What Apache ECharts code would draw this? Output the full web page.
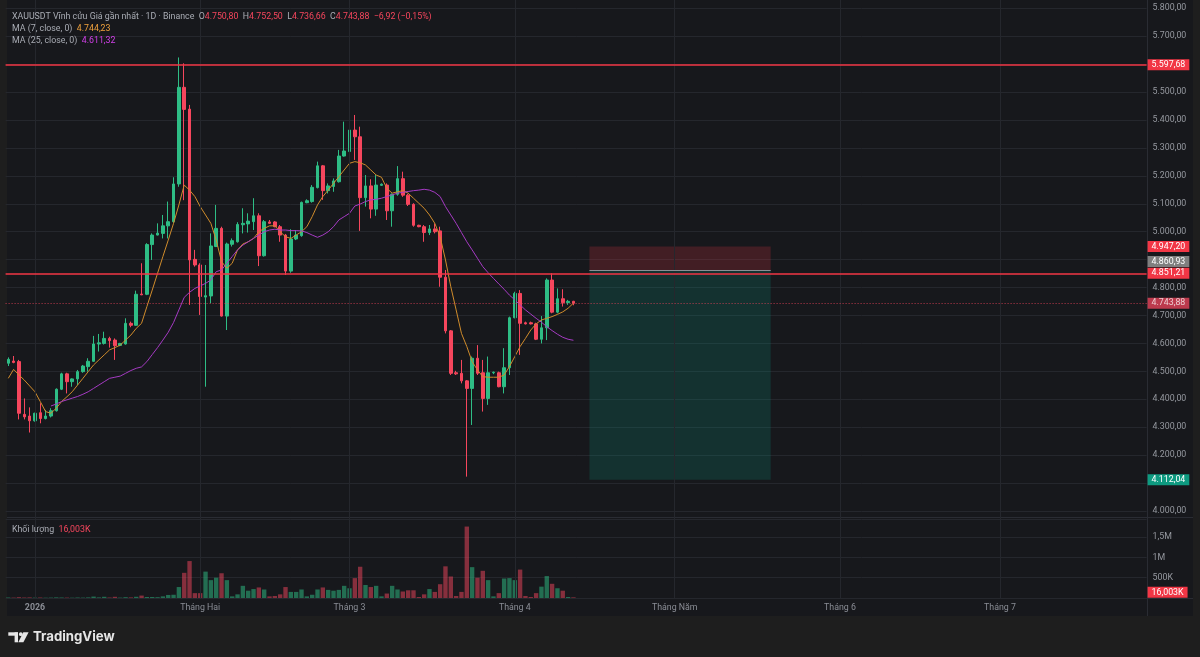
<!DOCTYPE html>
<html><head><meta charset="utf-8">
<script src="https://cdn.jsdelivr.net/npm/echarts@6/dist/echarts.min.js"></script>
<style>
html,body{margin:0;padding:0;background:#1e1e1e;overflow:hidden;}
#pane{position:absolute;left:7px;top:0;width:1186px;height:616px;background:#17181c;}
.sep{position:absolute;background:#2a2c33;}
#c{position:absolute;left:0;top:0;width:1200px;height:657px;}
</style>
</head><body>
<div id="pane"></div>
<div class="sep" style="left:7px;top:517px;width:1186px;height:1px;"></div>
<div class="sep" style="left:7px;top:598px;width:1186px;height:1px;"></div>
<div class="sep" style="left:1147px;top:0;width:1px;height:616px;"></div>
<div id="c"></div>
<script>
const FONT = 'Roboto, Inter, "Noto Sans", sans-serif';
const LOGOFONT = 'Inter, "Noto Sans", sans-serif';
const FS = 8.8;

// ---- axis / labels ----
const startDay = '2025-12-27';
const dayCount = 214;
const tickDates  = ['2026-01-01','2026-02-01','2026-03-01','2026-04-01','2026-05-01','2026-06-01','2026-07-01'];
const tickLabels = ['2026','Tháng Hai','Tháng 3','Tháng 4','Tháng Năm','Tháng 6','Tháng 7'];
const hiddenPriceTicks = [5600, 4900, 4100];

// ---- daily candles (XAUUSDT perpetual, 1D) ----
const opens = [4529,4537,4535,4346,4340,4323,4352,4331,4340,4359,
 4436,4491,4463,4473,4499,4517,4536,4598,4600,4618,
 4612,4593,4598,4672,4665,4777,4776,4954,4988,4994,
 5021,5036,5171,5517,5439,4901,4881,4766,4770,4947,
 5012,4698,4955,4964,5025,5028,5036,5057,4914,5035,
 5035,5018,4988,4859,4974,4986,5104,5108,5158,5236,
 5147,5162,5179,5271,5287,5364,5340,5122,5164,5081,
 5166,5167,5075,5134,5190,5131,5098,5023,5018,4997,
 5010,5003,4837,4645,4495,4493,4466,4439,4547,4495,
 4403,4495,4495,4445,4513,4692,4779,4674,4674,4670,
 4615,4656,4827,4712,4760,4746,4750.80];
const highs = [4550,4555,4541,4403,4371,4352,4386,4362,4368,4439,
 4495,4495,4475,4505,4523,4547,4627,4634,4642,4624,
 4618,4602,4690,4678,4789,4887,4959,4994,5030,5060,
 5108,5195,5624,5603,5454,4935,4887,4881,4994,5096,
 5018,4961,4976,5034,5084,5066,5120,5066,5042,5042,
 5038,5024,4992,5009,5006,5108,5116,5167,5251,5239,
 5173,5191,5293,5394,5367,5418,5376,5203,5188,5203,
 5173,5173,5137,5235,5215,5135,5102,5025,5024,5024,
 5030,5018,4863,4648,4502,4541,4469,4553,4594,4541,
 4553,4499,4499,4583,4696,4785,4791,4678,4678,4674,
 4698,4833,4851,4797,4794,4756,4752.50];
const lows = [4519,4529,4328,4328,4281,4320,4314,4328,4335,4356,
 4433,4421,4445,4451,4495,4499,4534,4571,4596,4585,
 4541,4590,4596,4658,4663,4773,4773,4899,4987,4976,
 4976,5032,5161,5113,4738,4875,4702,4445,4744,4945,
 4696,4648,4947,4961,4994,4997,5006,4877,4911,5028,
 5016,4964,4845,4853,4970,4982,5102,5104,5155,5114,
 5137,5143,5176,5269,5269,5257,5003,5090,5048,5057,
 5164,5042,5018,5129,5125,5092,5018,5016,4964,4988,
 4994,4803,4636,4487,4487,4457,4123,4308,4487,4356,
 4380,4490,4443,4421,4487,4690,4559,4668,4668,4612,
 4600,4612,4708,4708,4732,4738,4736.66];
const closes = [4543,4532,4350,4337,4323,4350,4331,4340,4359,4436,
 4491,4463,4473,4499,4519,4536,4598,4602,4618,4610,
 4592,4600,4672,4665,4776,4774,4954,4988,4995,5021,
 5036,5171,5517,5438,4899,4881,4768,4771,4949,5012,
 4698,4956,4968,5026,5030,5038,5057,4914,5036,5030,
 5018,4988,4859,4974,4988,5105,5111,5159,5236,5147,
 5164,5182,5271,5289,5364,5340,5122,5164,5081,5167,
 5170,5075,5134,5190,5131,5098,5023,5018,4997,5010,
 5000,4837,4645,4493,4491,4466,4439,4547,4493,4403,
 4495,4497,4445,4513,4692,4779,4672,4670,4670,4615,
 4656,4827,4712,4760,4746,4750.80,4743.88];
const volumes = [12000,10000,20000,12000,15000,10000,12000,8000,10000,15000,
 12000,10000,8000,12000,10000,15000,35000,15000,30000,12000,
 30000,10000,20000,15000,30000,60000,25000,25000,20000,40000,
 75000,80000,270000,620000,910000,120000,120000,650000,440000,500000,
 610000,440000,40000,90000,300000,180000,220000,260000,210000,40000,
 50000,90000,270000,150000,150000,210000,40000,80000,210000,260000,
 200000,180000,200000,300000,240000,490000,770000,320000,270000,300000,
 40000,110000,300000,210000,160000,190000,190000,25000,90000,220000,
 150000,340000,780000,530000,50000,150000,1760000,760000,500000,670000,
 440000,40000,120000,480000,490000,440000,700000,50000,25000,120000,
 280000,540000,350000,240000,180000,25000,16003];
const ma7 = [4475,4507,4487,4469,4448,4427,4392,4356,4350,4368,
 4392,4409,4427,4451,4475,4499,4523,4541,4559,4577,
 4585,4594,4612,4630,4654,4672,4732,4791,4851,4911,
 4970,5030,5096,5167,5149,5126,5090,5060,5030,4970,
 4893,4869,4887,4935,4956,4964,4976,5000,5012,5021,
 5021,5000,4982,4976,4988,5000,5018,5054,5096,5126,
 5149,5173,5197,5221,5245,5251,5247,5239,5221,5203,
 5195,5155,5138,5143,5147,5138,5120,5102,5084,5060,
 5030,4982,4899,4803,4720,4636,4589,4535,4505,4481,
 4479,4479,4479,4487,4517,4553,4589,4618,4648,4670,
 4684,4690,4696,4704,4713,4726,4744.23];
const ma25 = ['-','-','-','-','-','-','-','-',4376,4383,
 4392,4398,4404,4410,4418,4427,4439,4451,4463,4475,
 4479,4483,4493,4503,4511,4516,4535,4560,4585,4612,
 4640,4675,4720,4765,4783,4797,4806,4815,4827,4857,
 4863,4887,4911,4935,4952,4964,4976,4988,5000,5006,
 5009,5006,5006,5004,5004,5003,4997,4988,4980,4988,
 5000,5018,5042,5054,5066,5092,5099,5108,5114,5116,
 5120,5126,5132,5138,5141,5144,5147,5149,5152,5149,
 5141,5126,5090,5060,5030,4997,4964,4935,4905,4875,
 4853,4833,4813,4794,4773,4756,4738,4720,4705,4690,
 4676,4660,4646,4633,4622,4615,4611.32];

// ---- drawings ----
const levelLines = [5597.68, 4851.21];
const position = {start:'2026-04-15', end:'2026-05-19', stop:4947.20, entry:4860.93, target:4112.04};

// ---- helpers ----
function vn(v, d){
  const s = Math.abs(v).toFixed(d);
  let parts = s.split('.');
  let i = parts[0].replace(/\B(?=(\d{3})+(?!\d))/g, '.');
  return (v < 0 ? '−' : '') + i + (parts[1] ? ',' + parts[1] : '');
}
const categories = [];
const t0 = Date.parse(startDay + 'T00:00:00Z');
for (let i = 0; i < dayCount; i++) categories.push(new Date(t0 + i * 864e5).toISOString().slice(0, 10));

const UP = '#2ebd85', DN = '#f6465d';
const VUP = 'rgba(46,189,133,0.52)', VDN = 'rgba(246,70,93,0.5)';
const GRIDC = '#25272d';
const GRAY = '#a9acb4';
const AXC = '#95989f';
const L = 5.6, R = 53.4;

const candleData = opens.map((o, i) => [o, closes[i], lows[i], highs[i]]);
const volData = volumes.map((v, i) => ({value: v, itemStyle: {color: closes[i] >= opens[i] ? VUP : VDN}}));
const last = closes.length - 1;
const lastClose = closes[last];
const chg = lastClose - closes[last - 1];

function tag(bg, v, text, off){
  return {show: true, position: 'end', distance: 1, formatter: text || vn(v, 2), color: '#fff',
    backgroundColor: bg, padding: [1, 4, 0, 4], fontSize: FS, lineHeight: 10, fontFamily: FONT,
    offset: off || [0, 0]};
}
const clear = {color: 'rgba(0,0,0,0)', width: 0};
function rich(extra){
  const r = {g: {fill: GRAY, fontSize: FS, fontFamily: FONT}};
  for (const k in extra) r[k] = {fill: extra[k], fontSize: FS, fontFamily: FONT};
  return r;
}

const chart = echarts.init(document.getElementById('c'), null, {renderer: 'canvas'});
const option = {
  backgroundColor: 'transparent',
  animation: false,
  grid: [
    {left: L, right: R, top: 8.3, bottom: 657 - 511, containLabel: false, outerBoundsMode: 'none'},
    {left: L, right: R, top: 519, bottom: 59, containLabel: false, outerBoundsMode: 'none'},
    {left: L, right: R, top: 0, bottom: 59, containLabel: false, outerBoundsMode: 'none'}
  ],
  xAxis: [
    {type: 'category', gridIndex: 0, data: categories, show: false},
    {type: 'category', gridIndex: 1, data: categories, show: false},
    {type: 'category', gridIndex: 2, data: categories,
      axisLine: {show: false}, axisTick: {show: false}, splitLine: {show: false},
      axisLabel: {
        interval: (idx, val) => tickDates.indexOf(val) >= 0,
        formatter: (val) => {
          const k = tickDates.indexOf(val);
          if (k < 0) return '';
          return k === 0 ? '{b|' + tickLabels[k] + '}' : tickLabels[k];
        },
        color: '#8a8d95', fontSize: FS, fontFamily: FONT, margin: 5,
        rich: {b: {fontWeight: 'bold', color: '#8a8d95', fontSize: FS, fontFamily: FONT}}
      }}
  ],
  yAxis: [
    {type: 'value', gridIndex: 0, position: 'right', min: 4000, max: 5800, interval: 100,
      axisLine: {show: false}, axisTick: {show: false},
      splitLine: {show: true, lineStyle: {color: GRIDC, width: 1}},
      axisLabel: {color: AXC, fontSize: FS, fontFamily: FONT, margin: 6, showMinLabel: true, showMaxLabel: true,
        formatter: (v) => hiddenPriceTicks.indexOf(v) >= 0 ? '' : vn(v, 2)}},
    {type: 'value', gridIndex: 1, position: 'right', min: 0, max: 1946000, interval: 500000,
      axisLine: {show: false}, axisTick: {show: false},
      splitLine: {show: true, lineStyle: {color: GRIDC, width: 1}},
      axisLabel: {color: AXC, fontSize: FS, fontFamily: FONT, margin: 6,
        formatter: (v) => {
          if (v <= 0 || v % 500000 !== 0) return '';
          return v >= 1e6 ? vn(v / 1e6, v % 1e6 ? 1 : 0) + 'M' : vn(v / 1e3, 0) + 'K';
        }}},
    {type: 'value', gridIndex: 2, show: false, min: 0, max: 1}
  ],
  series: [
    {type: 'line', xAxisIndex: 2, yAxisIndex: 2, data: [], z: 1, silent: true,
      markLine: {silent: true, symbol: ['none', 'none'], animation: false, label: {show: false},
        lineStyle: {color: GRIDC, width: 1, type: 'solid'},
        data: tickDates.map(d => ({xAxis: d}))}},
    {type: 'candlestick', name: 'XAUUSDT', xAxisIndex: 0, yAxisIndex: 0, data: candleData, z: 3,
      barWidth: 3,
      itemStyle: {color: UP, color0: DN, borderColor: UP, borderColor0: DN, borderWidth: 1},
      markArea: {silent: true, data: [
        [{xAxis: position.start, yAxis: position.stop, itemStyle: {color: 'rgba(242,54,69,0.2)'}}, {xAxis: position.end, yAxis: position.entry}],
        [{xAxis: position.start, yAxis: position.entry, itemStyle: {color: 'rgba(8,153,129,0.2)'}}, {xAxis: position.end, yAxis: position.target}]
      ]},
      markLine: {silent: true, symbol: ['none', 'none'], animation: false,
        data: [
          {yAxis: position.stop, lineStyle: clear, label: tag('#f23645', position.stop)},
          {yAxis: position.entry, lineStyle: clear, label: tag('#7f7f7f', position.entry, null, [0, -9])},
          {yAxis: position.target, lineStyle: clear, label: tag('#0e9a80', position.target)},
          [{coord: [position.start, position.entry], lineStyle: {color: '#8d8f94', width: 1, type: 'solid'}, label: {show: false}},
           {coord: [position.end, position.entry]}],
          {yAxis: lastClose, lineStyle: {color: DN, width: 1, type: [1, 2], opacity: 0.75}, label: tag('#f6465d', lastClose)},
          {yAxis: levelLines[0], lineStyle: {color: '#f23645', width: 1.5, type: 'solid'}, label: tag('#f23645', levelLines[0])},
          {yAxis: levelLines[1], lineStyle: {color: '#f23645', width: 1.5, type: 'solid'}, label: tag('#f23645', levelLines[1])}
        ]}},
    {type: 'line', name: 'MA7', xAxisIndex: 0, yAxisIndex: 0, data: ma7, z: 4, symbol: 'none',
      lineStyle: {color: '#d08c2c', width: 1}, silent: true},
    {type: 'line', name: 'MA25', xAxisIndex: 0, yAxisIndex: 0, data: ma25, z: 4, symbol: 'none',
      lineStyle: {color: '#a63bc4', width: 1}, silent: true},
    {type: 'bar', name: 'Volume', xAxisIndex: 1, yAxisIndex: 1, data: volData, barWidth: '82%', z: 3,
      markLine: {silent: true, symbol: ['none', 'none'], animation: false,
        data: [{yAxis: volumes[last], lineStyle: clear, label: tag('#f23645', volumes[last], vn(volumes[last] / 1000, 3) + 'K', [0, -5])}]}}
  ],
  graphic: [
    {type: 'text', x: 12, y: 17, z: 50, style: {
      text: '{g|XAUUSDT Vĩnh cửu Giá gần nhất · 1D · Binance}  {g|O}{r|' + vn(opens[last], 2) + '}  {g|H}{r|' + vn(highs[last], 2) +
        '}  {g|L}{r|' + vn(lows[last], 2) + '}  {g|C}{r|' + vn(lastClose, 2) + '}  {r|' + vn(chg, 2) + ' (' + vn(chg / closes[last - 1] * 100, 2) + '%)}',
      verticalAlign: 'middle', fontSize: FS, fontFamily: FONT, rich: rich({r: '#f6465d'})}},
    {type: 'text', x: 12, y: 29, z: 50, style: {
      text: '{g|MA (7, close, 0)}  {o|' + vn(ma7[last], 2) + '}', verticalAlign: 'middle', fontSize: FS, fontFamily: FONT,
      rich: rich({o: '#eea03c'})}},
    {type: 'text', x: 12, y: 41, z: 50, style: {
      text: '{g|MA (25, close, 0)}  {m|' + vn(ma25[last], 2) + '}', verticalAlign: 'middle', fontSize: FS, fontFamily: FONT,
      rich: rich({m: '#d140e8'})}},
    {type: 'text', x: 12, y: 530, z: 50, style: {
      text: '{g|Khối lượng}  {r|' + vn(volumes[last] / 1000, 3) + 'K}', verticalAlign: 'middle', fontSize: FS, fontFamily: FONT,
      rich: rich({r: '#f6465d'})}},
    {type: 'group', x: 0, y: 0, z: 50, children: [
      {type: 'rect', shape: {x: 8.3, y: 632.3, width: 9.7, height: 3.4}, style: {fill: '#e6e6e6'}},
      {type: 'rect', shape: {x: 14.6, y: 632.3, width: 3.4, height: 10}, style: {fill: '#e6e6e6'}},
      {type: 'circle', shape: {cx: 20.8, cy: 634.2, r: 1.9}, style: {fill: '#e6e6e6'}},
      {type: 'polygon', shape: {points: [[23.3, 632.3], [28.6, 632.3], [23.4, 642.3], [18.3, 642.3]]}, style: {fill: '#e6e6e6'}},
      {type: 'text', x: 33, y: 637.5, style: {text: 'TradingView', fill: '#e6e6e6', fontSize: 13.2, fontWeight: 'bold', fontFamily: LOGOFONT, verticalAlign: 'middle'}}
    ]}
  ]
};
chart.setOption(option);
</script>
</body></html>
